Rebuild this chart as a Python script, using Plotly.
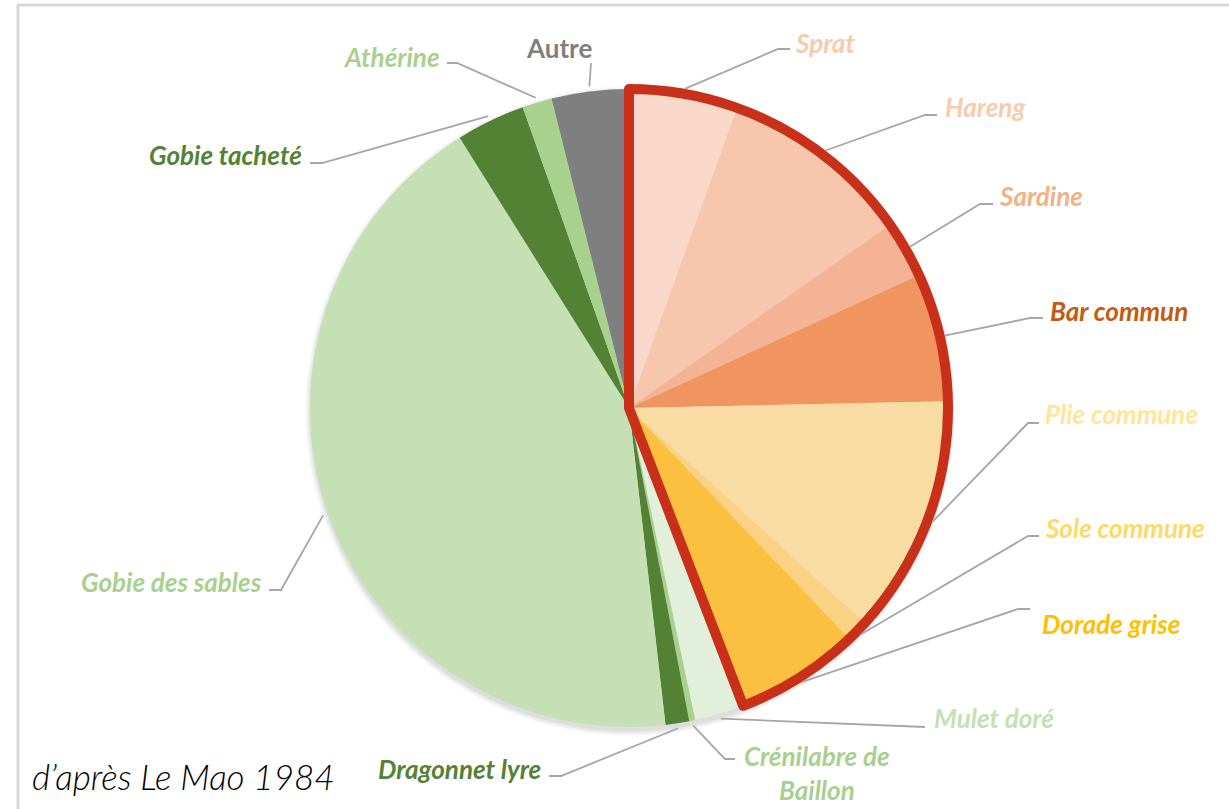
import math
import plotly.graph_objects as go

# ---------------- data ----------------
species = ["Sprat", "Hareng", "Sardine", "Bar commun", "Plie commune", "Sole commune",
           "Dorade grise", "Mulet doré", "Crénilabre de<br>Baillon", "Dragonnet lyre",
           "Gobie des sables", "Gobie tacheté", "Athérine", "Autre"]
shares = [5.5, 9.75, 2.9, 6.5, 12.1, 1.1, 6.3, 2.5, 0.3, 1.2, 42.9, 3.5, 1.5, 3.9]
n_highlight = 7  # Sprat .. Dorade grise are outlined in red

slice_colors = ["#f9d8ca", "#f7c6ad", "#f4b394", "#f19560", "#f9dba4", "#fbd283",
                "#fcc040", "#e2efda", "#a9d18e", "#548235", "#c5e0b4", "#548235",
                "#a9d18e", "#7f7f7f"]
label_colors = ["#f8cbad", "#f8cbad", "#f4b183", "#c55a11", "#ffe699", "#ffd966",
                "#ffc000", "#c5e0b4", "#a9d08e", "#548235", "#a9d08e", "#548235",
                "#a9d08e", "#7f7f7f"]

# ---------------- layout geometry (pixels) ----------------
W, H = 1229, 809
CX, CY, R = 629, 408, 319

def fx(x):
    return x / W

def fy(y):
    return 1 - y / H

# label anchor (x, y, xanchor), leader elbow and end points
label_pos = [(793, 43, "left"), (943, 107, "left"), (997, 196, "left"), (1048, 311, "left"),
             (1043, 414, "left"), (1043, 528, "left"), (1040, 624, "left"), (932, 718, "left"),
             (817, 773, "center"), (543, 769, "right"), (264, 582, "right"), (304, 155, "right"),
             (442, 57, "right"), (559, 48, "center")]
elbows = [(778, 49), (925, 115), (980, 204), (1030, 318), (1028, 423), (1028, 536),
          (1018, 609), (925, 727), (725, 759), (561, 776), (281, 590), (322, 163),
          (457, 63), (591, 63)]
ends = [(790, 49), (937, 115), (993, 204), (1043, 318), (1039, 423), (1039, 536),
        (1030, 609), (925, 727), (735, 759), (549, 776), (269, 590), (310, 163),
        (447, 63), (591, 63)]

fig = go.Figure()

dom = dict(x=[fx(CX - R), fx(CX + R)], y=[fy(CY + R), fy(CY - R)])

fig.add_trace(go.Pie(
    labels=species, values=shares, sort=False, direction="clockwise", rotation=0,
    marker=dict(colors=slice_colors, line=dict(width=0)),
    textinfo="none", hoverinfo="label+percent", showlegend=False, domain=dom,
))

# red outline around the first group of species
group_vals = [sum(shares[:n_highlight]), sum(shares[n_highlight:])]
fig.add_trace(go.Pie(
    labels=["groupe", "reste"], values=group_vals, sort=False, direction="clockwise",
    rotation=0,
    marker=dict(colors=["rgba(0,0,0,0)", "rgba(0,0,0,0)"],
                line=dict(color=["#c9301a", "rgba(0,0,0,0)"], width=[10, 0])),
    textinfo="none", hoverinfo="skip", showlegend=False, domain=dom,
))

shapes = []
# frame
shapes.append(dict(type="rect", xref="paper", yref="paper", x0=fx(18), x1=1.02,
                   y0=-0.02, y1=fy(5), line=dict(color="#d9d9d9", width=3),
                   fillcolor="rgba(0,0,0,0)", layer="below"))
# soft shadow under pie
for k, a in enumerate([0.025, 0.03, 0.035, 0.04]):
    rr = R + 6 - k * 1.5
    shapes.append(dict(type="circle", xref="paper", yref="paper",
                       x0=fx(CX - rr + 1), x1=fx(CX + rr + 1),
                       y0=fy(CY + rr + 3), y1=fy(CY - rr + 3),
                       fillcolor=f"rgba(0,0,0,{a})", line=dict(width=0), layer="below"))

annotations = []
total = sum(shares)
cum = 0.0
for i, (name, v) in enumerate(zip(species, shares)):
    theta = math.radians((cum + v / 2) / total * 360)
    cum += v
    sx = CX + (R + 5) * math.sin(theta)
    sy = CY - (R + 5) * math.cos(theta)
    ex, ey = elbows[i]
    tx, ty = ends[i]
    path = f"M {fx(sx)},{fy(sy)} L {fx(ex)},{fy(ey)} L {fx(tx)},{fy(ty)}"
    shapes.append(dict(type="path", xref="paper", yref="paper", path=path,
                       line=dict(color="#a6a6a6", width=1.8)))
    lx, ly, anc = label_pos[i]
    italic = name != "Autre"
    annotations.append(dict(
        x=fx(lx), y=fy(ly), xref="paper", yref="paper", text=f"<b>{name}</b>",
        showarrow=False, xanchor=anc, yanchor="middle", align="center",
        font=dict(family="Lato", size=26, color=label_colors[i],
                  style="italic" if italic else "normal"),
    ))

annotations.append(dict(
    x=fx(30), y=fy(776), xref="paper", yref="paper", text="d’après Le Mao 1984",
    showarrow=False, xanchor="left", yanchor="middle",
    font=dict(family="Lato", size=35, color="#000000", style="italic", weight=300),
))

fig.update_layout(
    width=W, height=H, margin=dict(l=0, r=0, t=0, b=0),
    paper_bgcolor="white", plot_bgcolor="white",
    shapes=shapes, annotations=annotations, showlegend=False,
)

fig.write_html("out.html", config={"displayModeBar": False},
               post_script="document.body.style.margin='0';document.body.style.overflow='hidden';")
